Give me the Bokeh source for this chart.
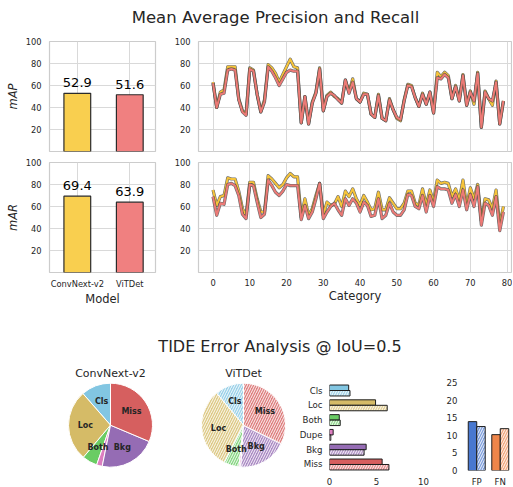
import numpy as np
from bokeh.plotting import figure
from bokeh.layouts import column, row
from bokeh.models import Div, Range1d, FixedTicker, ColumnDataSource
from bokeh.embed import file_html
from bokeh.resources import INLINE
from bokeh.core.properties import value

# ---------------- data ----------------
models = ["ConvNext-v2", "ViTDet"]
mean_ap = [52.9, 51.6]
mean_ar = [69.4, 63.9]
categories = list(range(80))
ap_convnext = [63, 40, 54, 56, 77, 77, 77, 48, 37, 34, 76, 74, 52, 36, 47, 79, 76, 71, 63, 70,
               77, 84, 77, 76, 26, 50, 25, 45, 54, 76, 37, 51, 54, 50, 48, 44, 65, 54, 66, 48,
               45, 53, 52, 34, 31, 52, 30, 28, 48, 38, 30, 28, 47, 61, 60, 49, 41, 53, 43, 54,
               35, 72, 68, 72, 69, 48, 60, 46, 70, 42, 55, 43, 72, 22, 55, 48, 42, 64, 25, 46]
ap_vitdet = [62, 40, 52, 53, 74, 75, 74, 47, 36, 33, 75, 73, 52, 36, 45, 77, 73, 67, 60, 66,
             72, 74, 73, 73, 26, 50, 25, 44, 53, 75, 37, 50, 53, 51, 47, 44, 65, 53, 63, 48,
             45, 52, 52, 34, 31, 51, 30, 28, 47, 38, 31, 29, 46, 60, 59, 49, 41, 52, 43, 54,
             35, 67, 66, 70, 67, 48, 59, 46, 69, 42, 54, 46, 71, 22, 54, 48, 46, 63, 25, 46]
ar_convnext = [75, 61, 69, 70, 86, 85, 85, 74, 58, 52, 82, 82, 67, 55, 55, 88, 85, 81, 77, 80,
               86, 90, 87, 87, 50, 67, 52, 58, 70, 81, 52, 64, 61, 62, 69, 60, 74, 69, 76, 67,
               61, 70, 64, 57, 58, 73, 57, 57, 68, 63, 58, 58, 63, 74, 74, 63, 61, 76, 61, 75,
               64, 84, 81, 82, 81, 69, 76, 66, 84, 60, 77, 67, 80, 47, 67, 66, 58, 75, 43, 60]
ar_vitdet = [69, 52, 63, 62, 80, 81, 79, 70, 53, 49, 80, 79, 64, 50, 53, 84, 79, 73, 70, 74,
             80, 79, 79, 79, 48, 61, 49, 55, 67, 81, 49, 55, 60, 63, 57, 52, 67, 61, 67, 63,
             55, 64, 61, 51, 52, 67, 49, 52, 63, 55, 52, 52, 57, 71, 70, 60, 58, 70, 55, 70,
             60, 78, 76, 76, 75, 63, 71, 60, 75, 57, 71, 60, 78, 43, 63, 61, 52, 69, 38, 55]
err_types = ["Cls", "Loc", "Both", "Dupe", "Bkg", "Miss"]
tide_convnext = [2.04, 4.9, 1.04, 0.39, 3.9, 5.6]
tide_vitdet = [2.18, 6.14, 1.14, 0.14, 3.68, 6.32]
special_types = ["FP", "FN"]
special_convnext = [13.9, 10.2]
special_vitdet = [12.5, 11.9]

# ---------------- styles ----------------
FONT = "DejaVu Sans"
TXT = "#262626"
C_CONV, C_VIT = "#f9cf4f", "#f08080"
L_CONV, L_VIT = "#f6c43a", "#ec7a76"
ERR_COLORS = ["#82c6e2", "#d5bb67", "#6acc64", "#dc7ec0", "#956cb4", "#d65f5f"]
SPEC_COLORS = ["#4878d0", "#ee854a"]
HATCH = dict(hatch_pattern="/", hatch_color="white", hatch_scale=5, hatch_weight=1, hatch_alpha=0.9)


def base_fig(**kw):
    p = figure(output_backend="svg", toolbar_location=None, **kw)
    p.background_fill_color = "white"
    p.border_fill_color = "white"
    for ax in p.axis:
        ax.axis_line_color = None
        ax.major_tick_line_color = None
        ax.minor_tick_line_color = None
        ax.major_tick_out = 0
        ax.major_tick_in = 0
        ax.minor_tick_out = 0
        ax.major_label_text_font = FONT
        ax.major_label_text_font_size = "8.3px"
        ax.major_label_text_color = TXT
        ax.major_label_standoff = 8
        ax.axis_label_text_font = FONT
        ax.axis_label_text_font_size = "11.5px"
        ax.axis_label_text_color = TXT
        ax.axis_label_standoff = 3
        ax.axis_label_text_font_style = "normal"
    return p


def whitegrid(p, xt, yt):
    p.outline_line_color = "#cccccc"
    p.outline_line_width = 1.2
    p.xaxis.ticker = FixedTicker(ticks=xt)
    p.yaxis.ticker = FixedTicker(ticks=yt)
    p.xgrid.ticker = FixedTicker(ticks=xt)
    p.ygrid.ticker = FixedTicker(ticks=yt)
    p.grid.grid_line_color = "#d9d9d9"
    p.grid.grid_line_width = 1


def bar_panel(vals, ylabel, show_x, top, bottom):
    p = base_fig(frame_width=106, frame_height=110, min_border_left=49, min_border_right=10,
                 min_border_top=top, min_border_bottom=bottom,
                 x_range=Range1d(-0.53, 1.49), y_range=Range1d(0, 100))
    idx = list(range(len(models)))
    whitegrid(p, idx, [20, 40, 60, 80, 100])
    src = ColumnDataSource(dict(x=idx, top=vals, color=[C_CONV, C_VIT],
                                label=[f"{v:.1f}" for v in vals]))
    p.vbar(x="x", top="top", bottom=0, width=0.51, fill_color="color",
           line_color="#2b2b2b", line_width=1.2, source=src)
    p.text(x="x", y="top", text="label", text_align="center", text_baseline="bottom",
           y_offset=-6, text_font=value(FONT), text_font_size="13px", text_color="black",
           source=src)
    p.xaxis.major_label_overrides = {i: m for i, m in enumerate(models)}
    p.yaxis.axis_label = ylabel
    p.yaxis.axis_label_text_font_style = "italic"
    if show_x:
        p.xaxis.axis_label = "Model"
        p.xaxis.major_label_standoff = 6
        p.xaxis.axis_label_standoff = 0
    else:
        p.xaxis.visible = False
    return p


def line_panel(conv, vit, show_x, top, bottom):
    p = base_fig(frame_width=313, frame_height=110, min_border_left=33, min_border_right=1,
                 min_border_top=top, min_border_bottom=bottom,
                 x_range=Range1d(-3.95, 81.2), y_range=Range1d(0, 100))
    whitegrid(p, list(range(0, 81, 10)), [20, 40, 60, 80, 100])
    for ys, col in [(conv, L_CONV), (vit, L_VIT)]:
        p.line(categories, ys, line_color="#3a3a3a", line_width=3.2, line_alpha=0.75,
               line_join="round")
        p.line(categories, ys, line_color=col, line_width=2.0, line_join="round")
    if show_x:
        p.xaxis.axis_label = "Category"
        p.xaxis.major_label_standoff = 6
        p.xaxis.axis_label_standoff = 0
    else:
        p.xaxis.visible = False
    return p


def pie_panel(vals, name, hatched, left, right):
    v = np.array(vals, dtype=float)
    frac = v / v.sum()
    end = np.pi / 2 + 2 * np.pi * np.cumsum(frac)
    start = end - 2 * np.pi * frac
    mid = (start + end) / 2
    src = ColumnDataSource(dict(s=start, e=end, color=ERR_COLORS,
                                lx=0.6 * np.cos(mid), ly=0.6 * np.sin(mid),
                                label=[t if f > 0.04 else "" for t, f in zip(err_types, frac)]))
    p = base_fig(title=name, frame_width=100, frame_height=104, min_border_left=left,
                 min_border_right=right, min_border_top=22, min_border_bottom=0,
                 x_range=Range1d(-50 / 42, 50 / 42), y_range=Range1d(-59.3 / 42, 44.7 / 42))
    p.axis.visible = False
    p.grid.visible = False
    p.outline_line_color = None
    p.title.align = "center"
    p.title.text_font = FONT
    p.title.text_font_size = "11px"
    p.title.text_font_style = "normal"
    p.title.text_color = TXT
    p.title.standoff = 2
    kw = dict(HATCH, fill_alpha=0.8) if hatched else {}
    p.wedge(x=0, y=0, radius=1, start_angle="s", end_angle="e", fill_color="color",
            line_color="white", line_width=1, source=src, **kw)
    p.text(x="lx", y="ly", text="label", text_align="center", text_baseline="middle",
           text_font=value(FONT), text_font_size="8px", text_font_style="bold",
           text_color=TXT, source=src)
    return p


def clean(p):
    p.grid.visible = False
    p.outline_line_color = None


# ---------------- top section ----------------
title1 = Div(text=('<div style="width:512px;box-sizing:border-box;padding-left:39px;'
                   'padding-top:8px;text-align:center;font-family:\'DejaVu Sans\';'
                   'font-size:16.5px;line-height:20px;color:#262626;">'
                   'Mean Average Precision and Recall</div>'),
             width=512, height=30, margin=(0, 0, 0, 0))

b1 = bar_panel(mean_ap, "mAP", False, 11, 5)
l1 = line_panel(ap_convnext, ap_vitdet, False, 11, 5)
b2 = bar_panel(mean_ar, "mAR", True, 6, 34)
l2 = line_panel(ar_convnext, ar_vitdet, True, 6, 34)

title2 = Div(text=('<div style="width:512px;box-sizing:border-box;padding-left:48px;'
                   'padding-top:29px;text-align:center;font-family:\'DejaVu Sans\';'
                   'font-size:16px;line-height:20px;color:#262626;">'
                   'TIDE Error Analysis @ IoU=0.5</div>'),
             width=512, height=50, margin=(0, 0, 0, 0))

# ---------------- bottom section ----------------
pie1 = pie_panel(tide_convnext, "ConvNext-v2", False, 60, 16)
pie2 = pie_panel(tide_vitdet, "ViTDet", True, 17, 0)

pos = np.arange(len(err_types))
ph = base_fig(frame_width=94, frame_height=94, min_border_left=36, min_border_right=20,
              min_border_top=20, min_border_bottom=12,
              x_range=Range1d(0, 10), y_range=Range1d(5.676, -0.676))
clean(ph)
ph.hbar(y=pos - 0.185, left=0, right=tide_convnext, height=0.37, fill_color=ERR_COLORS,
        line_color="#1e1e1e", line_width=1)
ph.hbar(y=pos + 0.185, left=0, right=tide_vitdet, height=0.37, fill_color=ERR_COLORS,
        fill_alpha=0.7, line_color="#1e1e1e", line_width=1, **HATCH)
ph.xaxis.ticker = FixedTicker(ticks=[0, 5, 10])
ph.yaxis.ticker = FixedTicker(ticks=list(pos))
ph.yaxis.major_label_overrides = {int(i): t for i, t in zip(pos, err_types)}
ph.yaxis.major_label_text_font_size = "8.6px"
ph.xaxis.major_label_text_font_size = "8.6px"
ph.yaxis.major_label_standoff = 7
ph.xaxis.major_label_standoff = 3

sp = np.arange(len(special_types))
pf = base_fig(frame_width=44, frame_height=90, min_border_left=21, min_border_right=3,
              min_border_top=20, min_border_bottom=16,
              x_range=Range1d(-0.435, 1.435), y_range=Range1d(0, 25.6))
clean(pf)
pf.vbar(x=sp - 0.18, bottom=0, top=special_convnext, width=0.36, fill_color=SPEC_COLORS,
        line_color="#1e1e1e", line_width=1)
pf.vbar(x=sp + 0.18, bottom=0, top=special_vitdet, width=0.36, fill_color=SPEC_COLORS,
        fill_alpha=0.7, line_color="#1e1e1e", line_width=1, **HATCH)
pf.xaxis.ticker = FixedTicker(ticks=list(sp))
pf.xaxis.major_label_overrides = {int(i): t for i, t in zip(sp, special_types)}
pf.yaxis.ticker = FixedTicker(ticks=[0, 5, 10, 15, 20, 25])
pf.yaxis.major_label_text_font_size = "8.6px"
pf.xaxis.major_label_text_font_size = "8.6px"
pf.yaxis.major_label_standoff = 9
pf.xaxis.major_label_standoff = 6

layout = column(title1, row(b1, l1), row(b2, l2), title2, row(pie1, pie2, ph, pf))

open("out.html", "w").write(file_html(layout, INLINE, title="chart"))
